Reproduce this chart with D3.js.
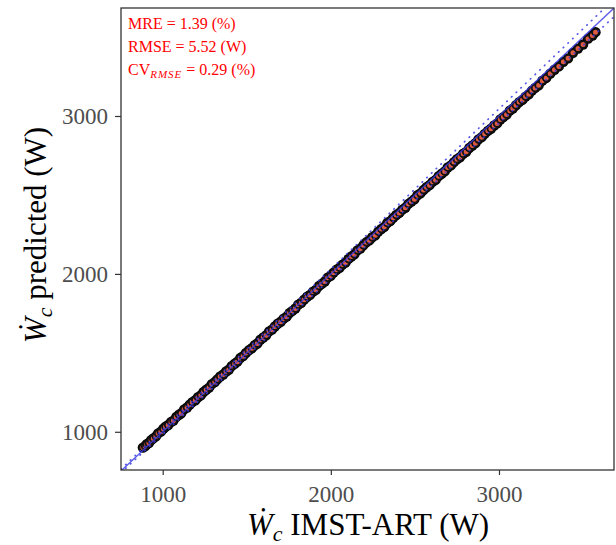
<!DOCTYPE html>
<html><head><meta charset="utf-8">
<script src="https://cdn.jsdelivr.net/npm/d3@7"></script>
<style>body{margin:0;background:#fff;} svg{display:block;}</style>
</head><body>
<svg id="chart" width="616" height="545"></svg>
<script>
// Measured (IMST-ART) and predicted compressor power, W
const actual = [882,896,905,918,931,944,960,973,989,1004,1017,1033,1050,1064,1081,1097,1110,1128,1145,1161,1176,1194,1210,1227,1243,1259,1276,1292,1310,1325,1342,1360,1377,1393,1410,1428,1444,1461,1478,1495,1512,1530,1547,1563,1581,1598,1615,1633,1650,1667,1684,1702,1719,1737,1754,1771,1789,1806,1824,1841,1859,1876,1894,1911,1929,1946,1964,1981,1999,2016,2034,2052,2069,2087,2105,2122,2140,2158,2175,2193,2211,2229,2246,2264,2282,2300,2318,2335,2353,2371,2389,2407,2425,2443,2461,2479,2497,2515,2533,2551,2569,2587,2605,2623,2641,2659,2677,2695,2714,2732,2750,2768,2787,2805,2823,2842,2860,2878,2897,2915,2934,2952,2971,2989,3008,3026,3045,3064,3082,3101,3120,3139,3158,3177,3196,3215,3236,3258,3281,3305,3330,3356,3383,3411,3440,3470,3500,3530,3556,3574];
const predicted = [900,909,921,929,947,958,971,990,1001,1019,1032,1043,1063,1071,1094,1108,1117,1142,1154,1172,1188,1200,1219,1231,1252,1266,1280,1302,1315,1332,1350,1363,1382,1393,1416,1431,1444,1467,1479,1499,1516,1529,1548,1559,1583,1597,1611,1636,1647,1667,1684,1697,1717,1729,1752,1766,1781,1805,1817,1837,1855,1867,1888,1899,1923,1937,1952,1976,1988,2008,2026,2039,2059,2071,2095,2110,2124,2149,2160,2181,2200,2212,2232,2244,2268,2284,2298,2322,2334,2355,2373,2386,2407,2419,2443,2458,2473,2498,2510,2531,2549,2562,2583,2595,2619,2634,2649,2674,2687,2708,2726,2739,2761,2773,2797,2813,2828,2852,2866,2887,2906,2919,2940,2953,2978,2993,3009,3034,3047,3068,3088,3102,3123,3137,3161,3178,3195,3224,3241,3268,3293,3314,3343,3365,3400,3427,3453,3490,3510,3531];
const xTicks = [1000, 2000, 3000];
const yTicks = [1000, 2000, 3000];
const bandFactors = [1.015, 0.985];
const statLines = ["MRE = 1.39 (%)", "RMSE = 5.52 (W)"];

const svg = d3.select("#chart");
const L = 121, R = 614, T = 8, B = 470;
const x = d3.scaleLinear().domain([752, 3684]).range([L, R]);
const y = d3.scaleLinear().domain([758, 3684]).range([B, T]);
const FONT = "'Liberation Serif','Times New Roman',serif";

svg.append("defs").append("clipPath").attr("id", "clip")
  .append("rect").attr("x", L).attr("y", T).attr("width", R - L).attr("height", B - T);

const data = actual.map((a, i) => ({a, p: predicted[i]}));
const g = svg.append("g").attr("clip-path", "url(#clip)");

// dark halo layer
g.selectAll("circle.halo").data(data).join("circle")
  .attr("class", "halo")
  .attr("cx", d => x(d.a)).attr("cy", d => y(d.p)).attr("r", 5.2)
  .attr("fill", "#000");
// filled points with black outline
g.selectAll("circle.pt").data(data).join("circle")
  .attr("class", "pt")
  .attr("cx", d => x(d.a)).attr("cy", d => y(d.p)).attr("r", 3.4)
  .attr("fill", "#DE5A40").attr("stroke", "#111").attr("stroke-width", 1.8);

const dom = x.domain();
g.append("line")
  .attr("x1", x(dom[0])).attr("y1", y(dom[0])).attr("x2", x(dom[1])).attr("y2", y(dom[1]))
  .attr("stroke", "#3B3BE6").attr("stroke-width", 1.3).attr("opacity", 0.85);
bandFactors.forEach(f => {
  g.append("line")
    .attr("x1", x(dom[0])).attr("y1", y(dom[0] * f)).attr("x2", x(dom[1])).attr("y2", y(dom[1] * f))
    .attr("stroke", "#3B3BE6").attr("stroke-width", 1.7).attr("stroke-dasharray", "0.5,6")
    .attr("stroke-linecap", "round").attr("opacity", 0.85);
});

svg.append("rect").attr("x", L).attr("y", T).attr("width", R - L).attr("height", B - T)
  .attr("fill", "none").attr("stroke", "#333").attr("stroke-width", 1.3);

const xa = svg.append("g").attr("transform", `translate(0,${B})`)
  .call(d3.axisBottom(x).tickValues(xTicks).tickSize(5).tickPadding(11).tickFormat(d3.format("d")));
const ya = svg.append("g").attr("transform", `translate(${L},0)`)
  .call(d3.axisLeft(y).tickValues(yTicks).tickSize(6).tickPadding(7).tickFormat(d3.format("d")));
[xa, ya].forEach(a => {
  a.select(".domain").remove();
  a.selectAll(".tick line").attr("stroke", "#333").attr("stroke-width", 1.2);
  a.selectAll(".tick text").attr("fill", "#4D4D4D").style("font-family", FONT).style("font-size", "23px");
});

function title(sel, rest) {
  sel.style("font-family", FONT).style("font-size", "31px").attr("fill", "#000").attr("text-anchor", "middle");
  sel.append("tspan").attr("font-style", "italic").text("\u1E86");
  sel.append("tspan").attr("font-style", "italic").attr("font-size", "22px").attr("dy", 6).text("c");
  sel.append("tspan").attr("dy", -6).text(rest);
}
title(svg.append("text").attr("x", 368).attr("y", 535), " IMST-ART (W)");
title(svg.append("text").attr("transform", "translate(46,235) rotate(-90)"), " predicted (W)");

const ann = svg.append("g").style("font-family", FONT).style("font-size", "16px").attr("fill", "#FF0000");
statLines.forEach((s, i) => ann.append("text").attr("x", 128).attr("y", 29 + 23 * i).text(s));
const cv = ann.append("text").attr("x", 128).attr("y", 75);
cv.append("tspan").text("CV");
cv.append("tspan").attr("font-style", "italic").attr("font-size", "11px").attr("letter-spacing", "1").attr("dy", 3).text("RMSE");
cv.append("tspan").attr("dy", -3).text(" = 0.29 (%)");
</script>
</body></html>
